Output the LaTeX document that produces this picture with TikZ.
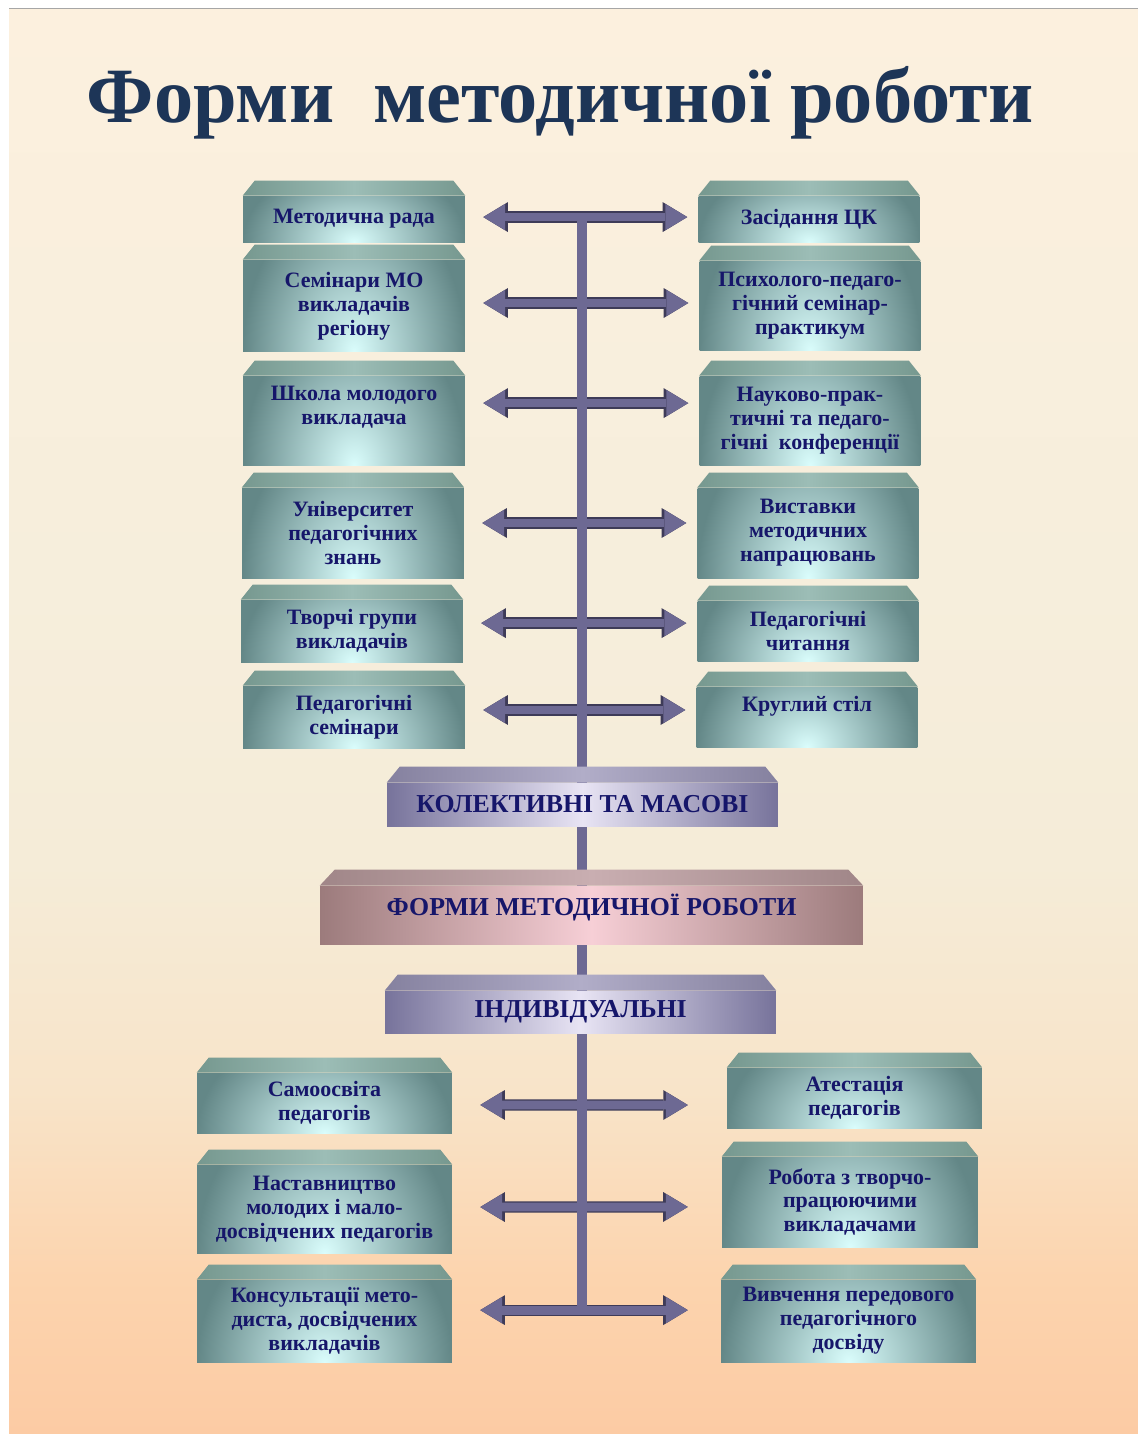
\documentclass[tikz,border=0pt]{standalone}
\usepackage{fontspec}
\setmainfont{Liberation Serif}
\usepackage{tikz}
\usetikzlibrary{arrows.meta,positioning,calc}

\definecolor{bgtop}{HTML}{FCF0DE}
\definecolor{bgmid}{HTML}{F6EEDC}
\definecolor{bgmidlow}{HTML}{F5ECD8}
\definecolor{bglow}{HTML}{F8E4C9}
\definecolor{bgpeach}{HTML}{FCD4AE}
\definecolor{bgbot}{HTML}{FCCBA4}
\definecolor{titleblue}{HTML}{1D3557}
\definecolor{boxtext}{HTML}{16166A}
\definecolor{tealedge}{HTML}{638787}
\definecolor{tealmid}{HTML}{DAFDFC}
\definecolor{tealbevedge}{HTML}{76988F}
\definecolor{tealbevmid}{HTML}{9CBDB6}
\definecolor{lilacedge}{HTML}{77739B}
\definecolor{lilacmid}{HTML}{E8E4F4}
\definecolor{lilacbevedge}{HTML}{85819F}
\definecolor{lilacbevmid}{HTML}{B1ADC8}
\definecolor{pinkedge}{HTML}{9C7B7C}
\definecolor{pinkmid}{HTML}{F7CFD6}
\definecolor{pinkbevedge}{HTML}{A08688}
\definecolor{pinkbevmid}{HTML}{C9AEB1}
\definecolor{spinefill}{HTML}{6D6993}
\definecolor{spineline}{HTML}{3E3B58}

\pgfdeclareverticalshading{slidebg}{100bp}{color(0bp)=(bgbot); color(25bp)=(bgbot);
    color(30.5bp)=(bgpeach); color(37bp)=(bglow); color(45bp)=(bgmidlow);
    color(55bp)=(bgmid); color(75bp)=(bgtop); color(100bp)=(bgtop)}

\newcommand{\boxfont}{\bfseries\fontsize{12.5}{13.6}\selectfont}
\newcommand{\groupfont}{\bfseries\fontsize{14.7}{16}\selectfont}

\begin{document}
\begin{tikzpicture}
    %% setup
    [
        x=0.02cm, y=-0.02cm,
        tealbox/.style={rectangle, inner sep=0pt, align=center, font=\boxfont, text=boxtext,
            fill=tealedge, minimum width=4.44cm,
            path picture={\shade[inner color=tealmid, outer color=tealedge]
                ($(path picture bounding box.south west)!-1.75!(path picture bounding box.north west)$)
                rectangle ($(path picture bounding box.south east)!1.75!(path picture bounding box.north east)$);},
            append after command={\pgfextra{\shade[left color=tealbevedge, right color=tealbevedge, middle color=tealbevmid]
                (\tikzlastnode.north west) -- ([shift={(12,-15)}]\tikzlastnode.north west)
                -- ([shift={(-12,-15)}]\tikzlastnode.north east) -- (\tikzlastnode.north east) -- cycle;}}},
        lilacbox/.style={rectangle, inner sep=0pt, align=center, font=\groupfont, text=boxtext,
            left color=lilacedge, right color=lilacedge, middle color=lilacmid,
            append after command={\pgfextra{\shade[left color=lilacbevedge, right color=lilacbevedge, middle color=lilacbevmid]
                (\tikzlastnode.north west) -- ([shift={(13,-16)}]\tikzlastnode.north west)
                -- ([shift={(-13,-16)}]\tikzlastnode.north east) -- (\tikzlastnode.north east) -- cycle;}}},
        pinkbox/.style={rectangle, inner sep=0pt, align=center, font=\groupfont, text=boxtext,
            left color=pinkedge, right color=pinkedge, middle color=pinkmid,
            append after command={\pgfextra{\shade[left color=pinkbevedge, right color=pinkbevedge, middle color=pinkbevmid]
                (\tikzlastnode.north west) -- ([shift={(15,-16)}]\tikzlastnode.north west)
                -- ([shift={(-15,-16)}]\tikzlastnode.north east) -- (\tikzlastnode.north east) -- cycle;}}},
        fatarrow/.style={draw=spinefill, line width=5pt,
            {Triangle[length=12.5pt,width=15pt,line width=0pt]}-{Triangle[length=12.5pt,width=15pt,line width=0pt]},
            preaction={draw=spineline, line width=6.4pt,
            {Triangle[length=14pt,width=17pt,line width=0pt]}-{Triangle[length=14pt,width=17pt,line width=0pt]}}},
        spinebar/.style={draw=spinefill, line width=5.7pt},
    ]

    %% Background
    \useasboundingbox (0,0) rectangle (1138,1434);
    \fill[white] (0,0) rectangle (1138,1434);
    \shade[shading=slidebg] (9,9) rectangle (1138,1434);
    \draw[gray!70, line width=0.8pt] (9,8.5) -- (1138,8.5);

    %% Title
    \node [font=\bfseries\fontsize{44.6}{50}\selectfont, text=titleblue, anchor=base] (titlenode) at (560,122) {Форми\ \ методичної роботи};

    %% Nodes: collective forms
    \node [tealbox, minimum height=0.92cm] (councilnode) at (354,219) {Методична рада};
    \node [tealbox, minimum width=4.42cm, minimum height=0.92cm] (cknode) at (809,219) {Засідання ЦК};
    \node [tealbox, minimum height=1.84cm] (seminarnode) at (354,306) {Семінари МО\\викладачів\\регіону};
    \node [tealbox, minimum width=4.42cm, minimum height=1.8cm] (psychnode) at (810,306) {Психолого-педаго-\\гічний семінар-\\практикум};
    \node [tealbox, minimum height=1.8cm, text depth=18pt] (schoolnode) at (354,421) {Школа молодого\\викладача};
    \node [tealbox, minimum width=4.42cm, minimum height=1.8cm] (confnode) at (810,421) {Науково-прак-\\тичні та педаго-\\гічні\ \ конференції};
    \node [tealbox, minimum height=1.8cm] (univnode) at (353,533) {Університет\\педагогічних\\знань};
    \node [tealbox, minimum width=4.42cm, minimum height=1.8cm] (exhibnode) at (808,533) {Виставки\\методичних\\напрацювань};
    \node [tealbox, minimum height=1.24cm] (groupsnode) at (352,631) {Творчі групи\\викладачів};
    \node [tealbox, minimum width=4.42cm, minimum height=1.2cm] (readingsnode) at (808,631) {Педагогічні\\читання};
    \node [tealbox, minimum height=1.24cm] (pedsemnode) at (354,717) {Педагогічні\\семінари};
    \node [tealbox, minimum width=4.42cm, minimum height=1.2cm, text depth=15pt] (roundtablenode) at (807,717) {Круглий стіл};

    %% Nodes: individual forms
    \node [tealbox, minimum width=5.1cm, minimum height=1.2cm] (selfnode) at (324.5,1103) {Самоосвіта\\педагогів};
    \node [tealbox, minimum width=5.1cm, minimum height=1.2cm] (attestnode) at (854.5,1098) {Атестація\\педагогів};
    \node [tealbox, minimum width=5.1cm, minimum height=1.76cm] (mentornode) at (324.5,1209) {Наставництво\\молодих і мало-\\досвідчених педагогів};
    \node [tealbox, minimum width=5.12cm, minimum height=1.8cm] (creativenode) at (850,1202) {Робота з творчо-\\працюючими\\викладачами};
    \node [tealbox, minimum width=5.1cm, minimum height=1.64cm] (consultnode) at (324.5,1321) {Консультації мето-\\диста, досвідчених\\викладачів};
    \node [tealbox, minimum width=5.1cm, minimum height=1.64cm] (experiencenode) at (848.5,1321) {Вивчення передового\\педагогічного\\досвіду};

    %% Lines
    \draw[fatarrow, shorten <=10.2pt, shorten >=6.2pt] ([yshift=1.1pt]councilnode.east) -- ([yshift=1.1pt]cknode.west);
    \draw[fatarrow, shorten <=10.2pt, shorten >=6.2pt] ([yshift=1.7pt]seminarnode.east) -- ([yshift=1.7pt]psychnode.west);
    \draw[fatarrow, shorten <=10.2pt, shorten >=6.2pt] ([yshift=10.2pt]schoolnode.east) -- ([yshift=10.2pt]confnode.west);
    \draw[fatarrow, shorten <=10.2pt, shorten >=6.2pt] ([yshift=5.7pt]univnode.east) -- ([yshift=5.7pt]exhibnode.west);
    \draw[fatarrow, shorten <=10.2pt, shorten >=6.2pt] ([yshift=4.5pt]groupsnode.east) -- ([yshift=4.5pt]readingsnode.west);
    \draw[fatarrow, shorten <=10.2pt, shorten >=6.2pt] ([yshift=4pt]pedsemnode.east) -- ([yshift=4pt]roundtablenode.west);
    \draw[fatarrow, shorten <=15.9pt, shorten >=22.1pt] ([yshift=-1.1pt]selfnode.east) -- ([yshift=-4pt]attestnode.west);
    \draw[fatarrow, shorten <=15.9pt, shorten >=19.3pt] ([yshift=1.1pt]mentornode.east) -- ([yshift=-2.8pt]creativenode.west);
    \draw[fatarrow, shorten <=15.9pt, shorten >=18.7pt] ([yshift=6.2pt]consultnode.east) -- ([yshift=6.2pt]experiencenode.west);

    %% Spine
    \coordinate (spinetop) at (582,217);
    \coordinate (spinebottom) at (582,1310);
    \draw[spinebar] (spinetop) -- (spinebottom);

    %% Nodes: groups
    \node [lilacbox, minimum width=7.82cm, minimum height=0.86cm] (collectivenode) at (582.5,804.5) {КОЛЕКТИВНІ ТА МАСОВІ};
    \node [pinkbox, minimum width=10.86cm, minimum height=1.16cm, text depth=12pt] (formsnode) at (591.5,915) {ФОРМИ МЕТОДИЧНОЇ РОБОТИ};
    \node [lilacbox, minimum width=7.82cm, minimum height=0.84cm] (individualnode) at (580.5,1012) {ІНДИВІДУАЛЬНІ};
\end{tikzpicture}
\end{document}
